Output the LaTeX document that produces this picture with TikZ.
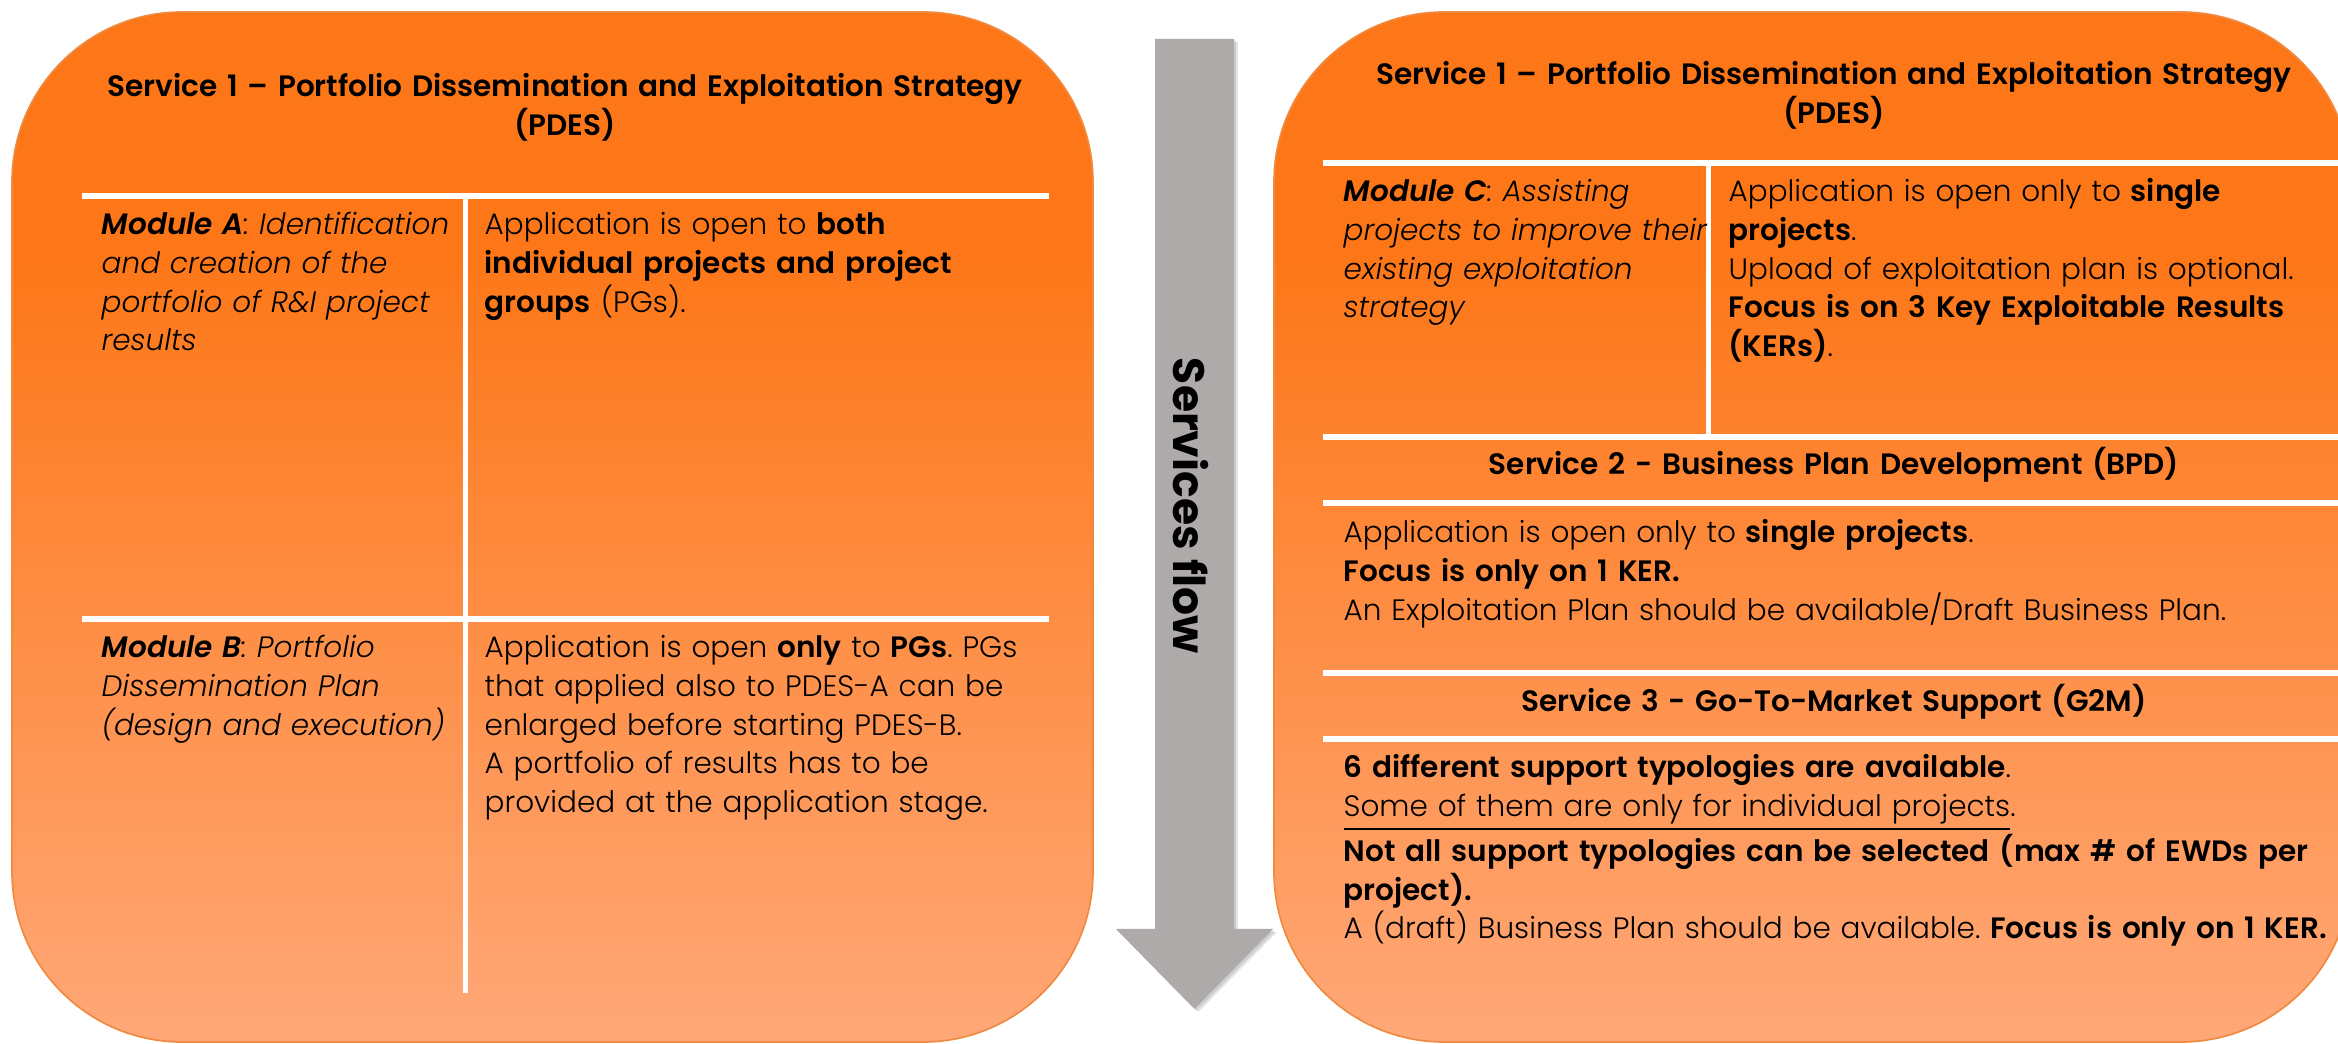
\documentclass[tikz,border=0pt]{standalone}
\usepackage{fontspec}
\setmainfont{Poppins}[UprightFont={* Light}, ItalicFont={* Light Italic}, BoldFont={* SemiBold}, BoldItalicFont={* SemiBold Italic}]
\newfontfamily\flowfont{Poppins}
\definecolor{otop}{HTML}{FD7718}
\definecolor{obot}{HTML}{FFA878}
\definecolor{oedge}{HTML}{F08A40}
\definecolor{arrgray}{HTML}{AEAAA9}
\pgfdeclareverticalshading{boxshade}{100bp}{color(0bp)=(obot); color(25bp)=(obot); color(63bp)=(otop); color(100bp)=(otop)}
\newcommand{\bodyfont}{\fontsize{8.85}{11.58}\selectfont\frenchspacing}
\begin{document}
\begin{tikzpicture}[x=0.3pt,y=-0.3pt,
  wline/.style={white, line width=1.8pt},
  vline/.style={white, line width=1.5pt},
  body/.style={anchor=base west, inner sep=0pt, text width=320pt, align=left, font=\bodyfont, text=black},
  ttl/.style={anchor=base, inner sep=0pt, text width=330pt, align=center, font=\bodyfont\bfseries, text=black},
  boxfill/.style={shading=boxshade, rounded corners=51pt},
  boxedge/.style={draw=oedge, line width=0.5pt, rounded corners=51pt},
  flowtext/.style={rotate=-90, inner sep=0pt, font=\flowfont\fontsize{13.2}{15}\selectfont\bfseries, text=black}]
\useasboundingbox (0,0) rectangle (2338,1044);
\clip (0,0) rectangle (2338,1044);

% boxes
\shade[boxfill] (12,12) rectangle (1093,1042);
\draw[boxedge] (12,12) rectangle (1093,1042);
\shade[boxfill] (1274,12) rectangle (2351,1042);
\draw[boxedge] (1274,12) rectangle (2351,1042);

% arrow with soft shadow
\fill[black, opacity=0.10] (1159,42) -- (1238,42) -- (1238,932) -- (1277,932) -- (1198.5,1012) -- (1120,932) -- (1159,932) -- cycle;
\fill[black, opacity=0.10] (1157,41) -- (1236,41) -- (1236,931) -- (1275,931) -- (1196.5,1011) -- (1118,931) -- (1157,931) -- cycle;
\fill[arrgray] (1155,39) -- (1234,39) -- (1234,929) -- (1273,929) -- (1194.5,1009) -- (1116,929) -- (1155,929) -- cycle;
\node[flowtext] (flow) at (1191,506) {Services flow};

% left box lines
\draw[wline] (82,196) -- (1049,196);
\draw[wline] (82,619) -- (1049,619);
\draw[vline] (465,196) -- (465,993);

% right box lines
\draw[wline] (1323,163) -- (2345,163);
\draw[vline] (1708,163) -- (1708,437);
\draw[wline] (1323,437) -- (2345,437);
\draw[wline] (1323,503) -- (2345,503);
\draw[wline] (1323,673) -- (2345,673);
\draw[wline] (1323,739) -- (2345,739);

% left box texts
\node[ttl] (ltitle) at (565,97) {Service 1 – Portfolio Dissemination and Exploitation Strategy\\(PDES)};
\node[body] (moda) at (101,235) {\itshape\textbf{Module A}: Identification\\and creation of the\\portfolio of R\&I project\\results};
\node[body] (moda2) at (484,235) {Application is open to \textbf{both}\\\textbf{individual projects and project}\\\textbf{groups} (PGs).};
\node[body] (modb) at (101,658) {\itshape\textbf{Module B}: Portfolio\\Dissemination Plan\\(design and execution)};
\node[body] (modb2) at (484,658) {Application is open \textbf{only} to \textbf{PGs}. PGs\\that applied also to PDES-A can be\\enlarged before starting PDES-B.\\A portfolio of results has to be\\provided at the application stage.};

% right box texts
\node[ttl] (rtitle) at (1834,85) {Service 1 – Portfolio Dissemination and Exploitation Strategy\\(PDES)};
\node[body] (modc) at (1343,202) {\itshape\textbf{Module C}: Assisting\\projects to improve their\\existing exploitation\\strategy};
\node[body] (modc2) at (1728,202) {Application is open only to \textbf{single}\\\textbf{projects}.\\Upload of exploitation plan is optional.\\\textbf{Focus is on 3 Key Exploitable Results}\\\textbf{(KERs)}.};
\node[ttl] (s2title) at (1834,475) {Service 2 - Business Plan Development (BPD)};
\node[body] (s2body) at (1343,543) {Application is open only to \textbf{single projects}.\\\textbf{Focus is only on 1 KER.}\\An Exploitation Plan should be available/Draft Business Plan.};
\node[ttl] (s3title) at (1834,712) {Service 3 - Go-To-Market Support (G2M)};
\node[body] (s3body) at (1343,778) {\textbf{6 different support typologies are available}.\\\underline{Some of them are only for individual projects}.\\\textbf{Not all support typologies can be selected (max \# of EWDs per}\\\textbf{project).}\\A (draft) Business Plan should be available. \textbf{Focus is only on 1 KER.}};
\end{tikzpicture}
\end{document}
